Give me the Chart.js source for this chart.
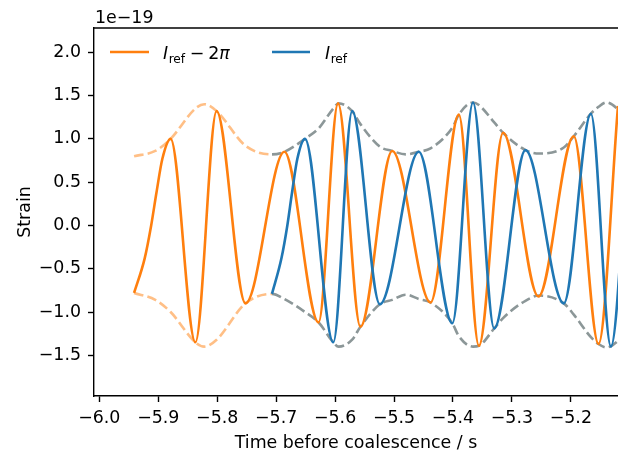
<!DOCTYPE html>
<html lang="en">
<head>
<meta charset="UTF-8">
<title>Strain before coalescence</title>
<style>
  html, body { margin: 0; padding: 0; background: #fff; overflow: hidden; }
  canvas { display: block; }
</style>
<script src="https://cdn.jsdelivr.net/npm/chart.js"></script>
</head>
<body>
<canvas id="strainChart" width="618" height="453"></canvas>
<script>
// strain in units of 1e-19, time in s before coalescence
// I_ref - 2pi (orange): start, first rise, then peaks / troughs
const shiftedTime   = [-5.941, -5.923, -5.912, -5.903, -5.893, -5.879, -5.837, -5.801, -5.752, -5.686, -5.628, -5.595, -5.557, -5.503, -5.438, -5.390, -5.356, -5.315, -5.255, -5.195, -5.153, -5.120];
const shiftedStrain = [-0.78, -0.38, 0.00, 0.38, 0.77, 1.00, -1.35, 1.32, -0.90, 0.85, -1.12, 1.41, -1.17, 0.86, -0.89, 1.28, -1.39, 1.07, -0.82, 1.03, -1.37, 1.38];

// I_ref (blue)
const refTime   = [-5.707, -5.691, -5.681, -5.673, -5.664, -5.651, -5.603, -5.571, -5.524, -5.458, -5.401, -5.366, -5.330, -5.277, -5.212, -5.166, -5.132, -5.100];
const refStrain = [-0.79, -0.38, 0.00, 0.38, 0.77, 1.00, -1.35, 1.32, -0.91, 0.85, -1.13, 1.42, -1.19, 0.87, -0.90, 1.29, -1.40, 1.35];

// amplitude envelope (dashed)
const envTime  = [-5.941, -5.905, -5.879, -5.837, -5.822, -5.801, -5.752, -5.707, -5.686, -5.651, -5.628, -5.603, -5.594, -5.571, -5.557, -5.524, -5.503, -5.480, -5.458, -5.438, -5.401, -5.390, -5.366, -5.356, -5.330, -5.315, -5.277, -5.254, -5.212, -5.195, -5.166, -5.153, -5.140, -5.100, -5.030];
const envUpper = [0.80, 0.86, 1.00, 1.35, 1.40, 1.32, 0.92, 0.82, 0.85, 1.00, 1.12, 1.35, 1.41, 1.32, 1.17, 0.91, 0.86, 0.82, 0.85, 0.89, 1.13, 1.28, 1.42, 1.39, 1.19, 1.07, 0.87, 0.83, 0.90, 1.03, 1.29, 1.37, 1.42, 1.20, 0.82];
const envLower = [-0.78, -0.86, -1.00, -1.35, -1.40, -1.32, -0.90, -0.79, -0.85, -1.00, -1.12, -1.35, -1.40, -1.32, -1.17, -0.91, -0.86, -0.80, -0.85, -0.89, -1.13, -1.28, -1.40, -1.39, -1.19, -1.07, -0.87, -0.81, -0.90, -1.03, -1.29, -1.37, -1.41, -1.20, -0.82];

const xTicks = [-6.0, -5.9, -5.8, -5.7, -5.6, -5.5, -5.4, -5.3, -5.2];
const yTicks = [-1.5, -1.0, -0.5, 0.0, 0.5, 1.0, 1.5, 2.0];

const ORANGE = '#ff7f0e';
const BLUE = '#1f77b4';
const LIGHT_ORANGE = 'rgba(255,127,14,0.5)';
const GREY = '#8c9798';
const FONT = '"DejaVu Sans", sans-serif';
const FS = 17.4;

const pts = (xs, ys) => xs.map((x, i) => ({ x: x, y: ys[i] }));
const fmt = v => {
    const s = Math.abs(v).toFixed(1);
    return (v < -1e-9 ? '\u2212' : '') + s;
};

// dashes before the blue curve starts are light orange, after that grey
const envColour = c => (c.p1.parsed.x <= refTime[0] + 1e-9 ? LIGHT_ORANGE : GREY);

function envDataset(ys) {
    return {
        data: pts(envTime, ys),
        borderColor: GREY,
        borderWidth: 2.6,
        borderDash: [9.6, 4.2],
        segment: { borderColor: envColour },
        order: 2
    };
}

function drawMathLabel(ctx, x, y, tail) {
    ctx.font = 'italic ' + FS + 'px ' + FONT;
    ctx.fillText('I', x, y);
    x += ctx.measureText('I').width + 0.5;
    ctx.font = (FS * 0.7) + 'px ' + FONT;
    ctx.fillText('ref', x, y + 4);
    x += ctx.measureText('ref').width;
    if (tail) {
        x += 4.5;
        ctx.font = FS + 'px ' + FONT;
        ctx.fillText('\u2212', x, y);
        x += ctx.measureText('\u2212').width + 4;
        ctx.fillText('2', x, y);
        x += ctx.measureText('2').width;
        ctx.font = 'italic ' + FS + 'px ' + FONT;
        ctx.fillText('\u03c0', x, y);
    }
}

const decorations = {
    id: 'decorations',
    afterDraw(chart) {
        const ctx = chart.ctx;
        const a = chart.chartArea;
        ctx.save();
        // top spine
        ctx.strokeStyle = '#000';
        ctx.lineWidth = 1.4;
        ctx.beginPath();
        ctx.moveTo(a.left - 0.7, a.top);
        ctx.lineTo(a.right, a.top);
        ctx.stroke();

        ctx.fillStyle = '#000';
        ctx.textBaseline = 'alphabetic';
        ctx.font = FS + 'px ' + FONT;
        ctx.fillText('1e\u221219', a.left + 1, 22.7);

        // legend
        ctx.lineWidth = 2.6;
        ctx.strokeStyle = ORANGE;
        ctx.beginPath(); ctx.moveTo(110, 52); ctx.lineTo(149, 52); ctx.stroke();
        ctx.strokeStyle = BLUE;
        ctx.beginPath(); ctx.moveTo(272, 52); ctx.lineTo(310, 52); ctx.stroke();
        drawMathLabel(ctx, 163, 59.3, true);
        drawMathLabel(ctx, 325, 59.3, false);
        ctx.restore();
    }
};

new Chart(document.getElementById('strainChart'), {
    type: 'line',
    data: {
        datasets: [
            {
                label: 'I_ref',
                data: pts(refTime, refStrain),
                borderColor: BLUE,
                borderWidth: 2.6,
                order: 0
            },
            {
                label: 'I_ref - 2pi',
                data: pts(shiftedTime, shiftedStrain),
                borderColor: ORANGE,
                borderWidth: 2.6,
                order: 1
            },
            envDataset(envUpper),
            envDataset(envLower)
        ]
    },
    options: {
        responsive: false,
        animation: false,
        devicePixelRatio: 1,
        layout: { padding: { top: 28, left: 0, right: 0, bottom: 0 } },
        elements: {
            point: { radius: 0, hoverRadius: 0 },
            line: { cubicInterpolationMode: 'monotone', borderJoinStyle: 'round', fill: false }
        },
        plugins: {
            legend: { display: false },
            tooltip: { enabled: false }
        },
        scales: {
            x: {
                type: 'linear',
                min: -6.009,
                max: -5.12,
                afterBuildTicks: s => { s.ticks = xTicks.map(v => ({ value: v })); },
                afterFit: s => { s.height = 57; },
                ticks: {
                    callback: fmt,
                    font: { family: FONT, size: FS },
                    color: '#000',
                    padding: 6,
                    maxRotation: 0,
                    autoSkip: false
                },
                grid: {
                    drawOnChartArea: false,
                    drawTicks: true,
                    tickLength: 6,
                    tickWidth: 1.4,
                    tickColor: '#000'
                },
                border: { display: true, color: '#000', width: 1.4 },
                title: {
                    display: true,
                    text: 'Time before coalescence / s',
                    font: { family: FONT, size: FS, lineHeight: 1 },
                    color: '#000',
                    padding: { top: 0, bottom: 1 }
                }
            },
            y: {
                min: -1.97,
                max: 2.28,
                afterBuildTicks: s => { s.ticks = yTicks.map(v => ({ value: v })); },
                afterFit: s => { s.width = 94; },
                ticks: {
                    callback: fmt,
                    font: { family: FONT, size: FS },
                    color: '#000',
                    padding: 7
                },
                grid: {
                    drawOnChartArea: false,
                    drawTicks: true,
                    tickLength: 6,
                    tickWidth: 1.4,
                    tickColor: '#000'
                },
                border: { display: true, color: '#000', width: 1.4 },
                title: {
                    display: true,
                    text: 'Strain',
                    font: { family: FONT, size: FS, lineHeight: 1 },
                    color: '#000',
                    padding: { top: 17, bottom: 0 }
                }
            }
        }
    },
    plugins: [decorations]
});
</script>
</body>
</html>
